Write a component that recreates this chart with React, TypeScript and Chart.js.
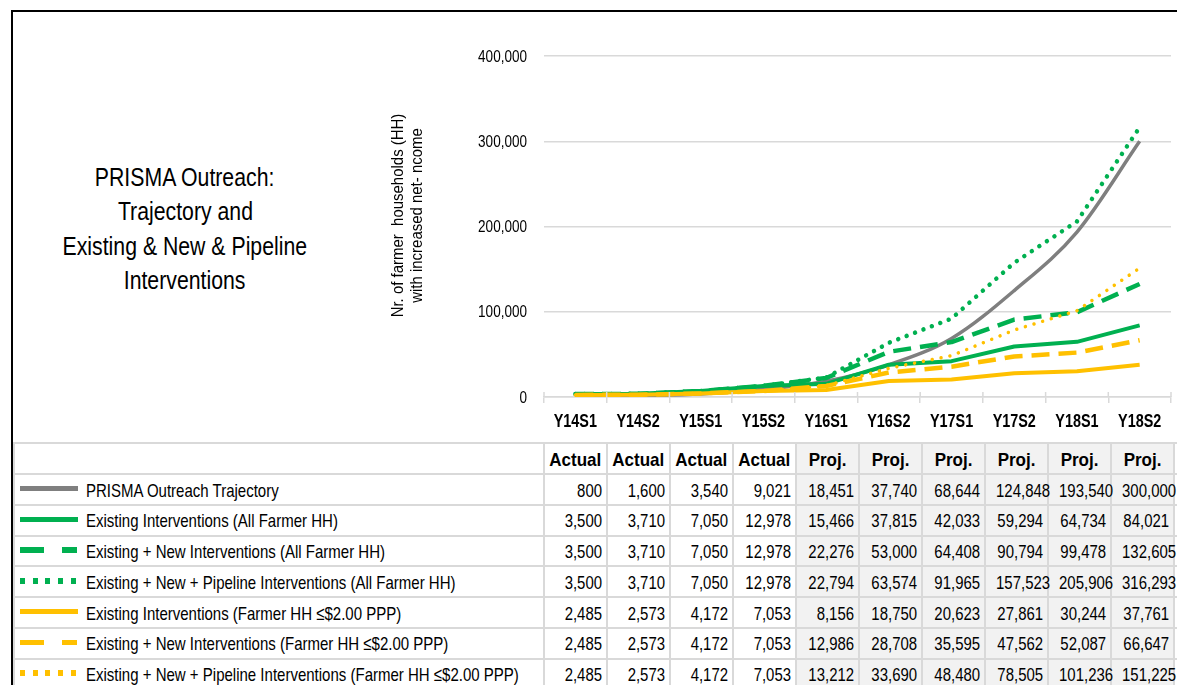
import React, { useEffect, useRef } from "react";
import { Chart, registerables } from "chart.js";

Chart.register(...registerables);

// ---------- Data ----------
const categories = ["Y14S1", "Y14S2", "Y15S1", "Y15S2", "Y16S1", "Y16S2", "Y17S1", "Y17S2", "Y18S1", "Y18S2"];
const statusLabels = ["Actual", "Actual", "Actual", "Actual", "Proj.", "Proj.", "Proj.", "Proj.", "Proj.", "Proj."];

const trajectory = [800, 1600, 3540, 9021, 18451, 37740, 68644, 124848, 193540, 300000];
const existingAll = [3500, 3710, 7050, 12978, 15466, 37815, 42033, 59294, 64734, 84021];
const existingNewAll = [3500, 3710, 7050, 12978, 22276, 53000, 64408, 90794, 99478, 132605];
const existingNewPipelineAll = [3500, 3710, 7050, 12978, 22794, 63574, 91965, 157523, 205906, 316293];
const existingPoor = [2485, 2573, 4172, 7053, 8156, 18750, 20623, 27861, 30244, 37761];
const existingNewPoor = [2485, 2573, 4172, 7053, 12986, 28708, 35595, 47562, 52087, 66647];
const existingNewPipelinePoor = [2485, 2573, 4172, 7053, 13212, 33690, 48480, 78505, 101236, 151225];

const seriesLabels = [
  "PRISMA Outreach Trajectory",
  "Existing Interventions (All Farmer HH)",
  "Existing + New Interventions (All Farmer HH)",
  "Existing + New + Pipeline Interventions (All Farmer HH)",
  "Existing Interventions (Farmer HH \u2264$2.00 PPP)",
  "Existing + New Interventions (Farmer HH \u2264$2.00 PPP)",
  "Existing + New + Pipeline Interventions (Farmer HH \u2264$2.00 PPP)",
];
const seriesValues = [
  trajectory,
  existingAll,
  existingNewAll,
  existingNewPipelineAll,
  existingPoor,
  existingNewPoor,
  existingNewPipelinePoor,
];

const yMin = 0;
const yMax = 400000;
const yStep = 100000;

const titleLines = ["PRISMA Outreach:", "Trajectory and", "Existing & New & Pipeline", "Interventions"];
const yAxisTitle = ["Nr. of farmer  households (HH)", "with increased net- ncome"];

// ---------- Styles ----------
const GRAY = "#7f7f7f";
const GREEN = "#00b050";
const YELLOW = "#ffc000";
const GRID = "#d9d9d9";
const FONT = "'Liberation Sans', Arial, sans-serif";

type Style = { color: string; kind: "solid" | "dash" | "dot"; width: number; smooth?: boolean };
const seriesStyles: Style[] = [
  { color: GRAY, kind: "solid", width: 3.5, smooth: true },
  { color: GREEN, kind: "solid", width: 4 },
  { color: GREEN, kind: "dash", width: 4.5 },
  { color: GREEN, kind: "dot", width: 4.5 },
  { color: YELLOW, kind: "solid", width: 4 },
  { color: YELLOW, kind: "dash", width: 4.5 },
  { color: YELLOW, kind: "dot", width: 3.5 },
];

const fmt = (v: number) => v.toLocaleString("en-US");

// layout constants
const CANVAS_LEFT = 380;
const CANVAS_TOP = 30;
const CANVAS_W = 797;
const CANVAS_H = 410;
const TABLE_TOP = 443;
const HEADER_H = 31;
const ROW_H = 30.75;
const COL_X0 = 544;
const COL_W = 63;

function drawScaled(ctx: CanvasRenderingContext2D, text: string, x: number, y: number, sx: number) {
  ctx.save();
  ctx.translate(x, y);
  ctx.scale(sx, 1);
  ctx.fillText(text, 0, 0);
  ctx.restore();
}

// Draws axis labels with a condensed face (the chart's typeface is a narrow one)
const condensedLabels = {
  id: "condensedLabels",
  afterDraw(chart: any) {
    const { ctx, chartArea } = chart;
    const xs = chart.scales.x;
    const ys = chart.scales.y;
    ctx.save();
    ctx.fillStyle = "#000";
    ctx.textBaseline = "middle";

    ctx.font = `bold 18px ${FONT}`;
    ctx.textAlign = "center";
    xs.ticks.forEach((t: any, i: number) => {
      drawScaled(ctx, String(xs.getLabelForValue(t.value)), xs.getPixelForTick(i), chartArea.bottom + 25, 0.8);
    });

    ctx.font = `16.5px ${FONT}`;
    ctx.textAlign = "right";
    ys.ticks.forEach((t: any) => {
      drawScaled(ctx, fmt(t.value), chartArea.left - 17, ys.getPixelForValue(t.value) + 1, 0.82);
    });

    ctx.font = `17px ${FONT}`;
    ctx.textAlign = "center";
    const cy = (chartArea.top + chartArea.bottom) / 2 - 11;
    yAxisTitle.forEach((line, i) => {
      ctx.save();
      ctx.translate(chartArea.left - 146 + i * 19, cy);
      ctx.rotate(-Math.PI / 2);
      ctx.scale(0.88, 1);
      ctx.fillText(line, 0, 0);
      ctx.restore();
    });

    ctx.strokeStyle = GRID;
    ctx.lineWidth = 1.5;
    for (let k = 0; k <= categories.length; k++) {
      const px = xs.getPixelForValue(k - 0.5);
      ctx.beginPath();
      ctx.moveTo(px, chartArea.bottom - 5);
      ctx.lineTo(px, chartArea.bottom);
      ctx.stroke();
    }
    ctx.restore();
  },
};

function Swatch({ s }: { s: Style }) {
  let bg: string = s.color;
  let width = 58;
  if (s.kind === "dash") {
    bg = `repeating-linear-gradient(to right, ${s.color} 0px, ${s.color} 24px, transparent 24px, transparent 42px)`;
    width = 57;
  } else if (s.kind === "dot") {
    bg = `repeating-linear-gradient(to right, ${s.color} 0px, ${s.color} 5px, transparent 5px, transparent 12.7px)`;
    width = 56;
  }
  return <div style={{ position: "absolute", left: 20, top: -2.5, width, height: 5.5, background: bg }} />;
}

function SText({
  text,
  sx,
  origin,
  style,
}: {
  text: string;
  sx: number;
  origin: string;
  style: React.CSSProperties;
}) {
  return (
    <div style={{ position: "absolute", whiteSpace: "nowrap", ...style }}>
      <span style={{ display: "inline-block", transform: `scaleX(${sx})`, transformOrigin: origin }}>{text}</span>
    </div>
  );
}

export default function App() {
  const canvasRef = useRef<HTMLCanvasElement>(null);

  useEffect(() => {
    if (!canvasRef.current) return;
    const datasets = seriesValues.map((vals, i) => {
      const st = seriesStyles[i];
      return {
        label: seriesLabels[i],
        data: vals,
        borderColor: st.color,
        backgroundColor: st.color,
        borderWidth: st.width,
        borderDash: st.kind === "dash" ? [18, 9] : st.kind === "dot" ? [0.01, 9] : [],
        borderCapStyle: (st.kind === "dot" ? "round" : "butt") as any,
        borderJoinStyle: "round" as any,
        pointRadius: 0,
        fill: false,
        cubicInterpolationMode: (st.smooth ? "monotone" : "default") as any,
        tension: 0,
        order: seriesValues.length - i,
      };
    });

    const chart = new Chart(canvasRef.current, {
      type: "line",
      data: { labels: categories, datasets },
      plugins: [condensedLabels],
      options: {
        responsive: false,
        animation: false,
        layout: { padding: { top: 26, right: 6, bottom: 0, left: 0 } },
        plugins: {
          legend: { display: false },
          tooltip: { enabled: false },
          title: { display: false },
        },
        scales: {
          x: {
            type: "category",
            offset: true,
            grid: {
              offset: true,
              drawOnChartArea: false,
              drawTicks: true,
              tickLength: 6,
              color: GRID,
              lineWidth: 1.5,
            },
            border: { display: true, color: GRID, width: 1.5 },
            ticks: { display: false, autoSkip: false },
            afterFit: (scale: any) => {
              scale.height = 43;
            },
          },
          y: {
            min: yMin,
            max: yMax,
            ticks: { stepSize: yStep, display: false },
            grid: { color: GRID, lineWidth: 1.5, drawTicks: false },
            border: { display: false },
            afterFit: (scale: any) => {
              scale.width = 164;
            },
          },
        },
      },
    });
    return () => chart.destroy();
  }, []);

  const hLines: number[] = [TABLE_TOP, TABLE_TOP + HEADER_H];
  for (let i = 1; i <= seriesLabels.length + 1; i++) hLines.push(TABLE_TOP + HEADER_H + i * ROW_H);

  return (
    <div
      style={{
        position: "absolute",
        left: 0,
        top: 0,
        width: 1177,
        height: 685,
        overflow: "hidden",
        background: "#fff",
        fontFamily: FONT,
        color: "#000",
      }}
    >
      {/* projected column backgrounds */}
      {statusLabels.map((s, k) =>
        s.startsWith("Proj") ? (
          <div
            key={"bg" + k}
            style={{
              position: "absolute",
              left: COL_X0 + k * COL_W,
              top: TABLE_TOP,
              width: COL_W,
              height: 685 - TABLE_TOP,
              background: "#f2f2f2",
            }}
          />
        ) : null
      )}

      {/* table horizontal lines */}
      {hLines.map((y, i) => (
        <div
          key={"h" + i}
          style={{ position: "absolute", left: 13, top: y - 1, width: 1177 - 13, height: 2, background: GRID }}
        />
      ))}
      {/* table vertical lines */}
      {Array.from({ length: categories.length + 1 }, (_, k) => (
        <div
          key={"v" + k}
          style={{
            position: "absolute",
            left: COL_X0 + k * COL_W - 1,
            top: TABLE_TOP,
            width: 2,
            height: 685 - TABLE_TOP,
            background: GRID,
          }}
        />
      ))}
      <div style={{ position: "absolute", left: 13, top: TABLE_TOP, width: 1.5, height: 685 - TABLE_TOP, background: GRID }} />

      {/* header row */}
      {statusLabels.map((s, k) => (
        <SText
          key={"hd" + k}
          text={s}
          sx={0.92}
          origin="center"
          style={{
            left: COL_X0 + k * COL_W,
            top: TABLE_TOP + 1,
            width: COL_W,
            height: HEADER_H,
            lineHeight: HEADER_H + "px",
            textAlign: "center",
            fontWeight: "bold",
            fontSize: 18.5,
          }}
        />
      ))}

      {/* data rows */}
      {seriesLabels.map((lab, r) => {
        const top = TABLE_TOP + HEADER_H + r * ROW_H;
        return (
          <React.Fragment key={"r" + r}>
            <div style={{ position: "absolute", left: 0, top: top + ROW_H / 2 - 1, width: 0, height: 0 }}>
              <Swatch s={seriesStyles[r]} />
            </div>
            <SText
              text={lab}
              sx={0.79}
              origin="left center"
              style={{ left: 86, top: top + 1.5, height: ROW_H, lineHeight: ROW_H + "px", fontSize: 19 }}
            />
            {seriesValues[r].map((v, k) => (
              <SText
                key={"c" + k}
                text={fmt(v)}
                sx={0.83}
                origin="right center"
                style={{
                  left: COL_X0 + k * COL_W,
                  top: top + 1.5,
                  width: COL_W - 5,
                  height: ROW_H,
                  lineHeight: ROW_H + "px",
                  textAlign: "right",
                  fontSize: 18,
                }}
              />
            ))}
          </React.Fragment>
        );
      })}

      {/* chart title */}
      {titleLines.map((t, i) => (
        <SText
          key={"t" + i}
          text={t}
          sx={0.85}
          origin="center"
          style={{
            left: 15,
            top: 159.75 + i * 34.5,
            width: 340,
            height: 34.5,
            lineHeight: "34.5px",
            textAlign: "center",
            fontSize: 25,
          }}
        />
      ))}

      {/* chart canvas */}
      <canvas
        ref={canvasRef}
        width={CANVAS_W}
        height={CANVAS_H}
        style={{ position: "absolute", left: CANVAS_LEFT, top: CANVAS_TOP, width: CANVAS_W, height: CANVAS_H }}
      />

      {/* outer border */}
      <div style={{ position: "absolute", left: 11, top: 10, width: 1177, height: 2, background: "#000" }} />
      <div style={{ position: "absolute", left: 11, top: 10, width: 2, height: 685, background: "#000" }} />
    </div>
  );
}
